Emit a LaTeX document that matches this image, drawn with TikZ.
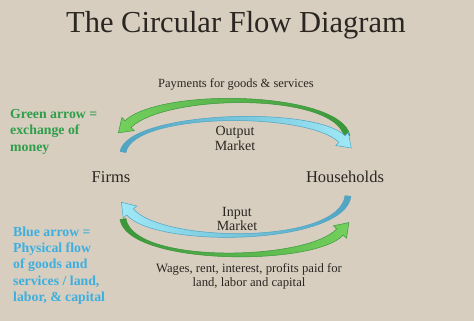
\documentclass[tikz,border=0pt]{standalone}
\usepackage{fontspec}
\setmainfont{Liberation Serif}
\usetikzlibrary{calc}

\begin{document}
\begin{tikzpicture}[x=1pt, y=-1pt,
    plain text/.style={anchor=base, inner sep=0pt, text=textColour},
    legend text/.style={anchor=base west, inner sep=0pt, align=left, font=\bfseries\fontsize{13.8}{16.4}\selectfont}]
    \definecolor{bgColour}{HTML}{D7CEC0}
    \definecolor{textColour}{HTML}{2B2621}
    \definecolor{moneyText}{HTML}{2F9E4A}
    \definecolor{goodsText}{HTML}{3DAFDF}
    \definecolor{greenDark}{HTML}{3A963A}
    \definecolor{greenLight}{HTML}{74D05C}
    \definecolor{blueDark}{HTML}{4FA4C2}
    \definecolor{blueLight}{HTML}{9FE8F6}

    \def\tailW{3pt}
    \def\headW{4.5pt}
    \def\barbW{9pt}
    \def\tipL{13pt}

    % curved band from P0 (tail) to P3 (head base), shaded
    \def\flowarrow#1#2#3#4#5{%
        \shade[#5, line width=0.5pt]
            ($(#1)!\tailW!90:(#2)$) .. controls ($(#2)!\tailW!-90:(#1)$) and ($(#3)!\headW!90:(#4)$) .. ($(#4)!\headW!-90:(#3)$)
            -- ($(#4)!\barbW!-90:(#3)$) -- ($(#4)!\tipL!180:(#3)$) -- ($(#4)!\barbW!90:(#3)$)
            -- ($(#4)!\headW!90:(#3)$) .. controls ($(#3)!\headW!-90:(#4)$) and ($(#2)!\tailW!90:(#1)$) .. ($(#1)!\tailW!-90:(#2)$) -- cycle;
    }

    % Background
    \fill[bgColour] (0,0) rectangle (474,321);

    % Title
    \node[plain text, font=\fontsize{30.5}{34}\selectfont] (title) at (236,33) {The Circular Flow Diagram};

    % Sectors
    \node[plain text, font=\fontsize{16.5}{18}\selectfont] (firms) at (111,182) {Firms};
    \node[plain text, font=\fontsize{16.5}{18}\selectfont] (households) at (345,182) {Households};

    % Markets
    \node[plain text, font=\fontsize{14}{16}\selectfont] (outputA) at (235,135) {Output};
    \node[plain text, font=\fontsize{14}{16}\selectfont] (outputB) at (235,150.7) {Market};
    \node[plain text, font=\fontsize{14}{16}\selectfont] (inputA) at (237,216) {Input};
    \node[plain text, font=\fontsize{14}{16}\selectfont] (inputB) at (237,230.5) {Market};

    % Flow labels
    \node[plain text, font=\fontsize{12.5}{14}\selectfont] (payments) at (236,87.5) {Payments for goods \& services};
    \node[plain text, font=\fontsize{12.7}{14}\selectfont] (wagesA) at (249,272.3) {Wages, rent, interest, profits paid for};
    \node[plain text, font=\fontsize{12.7}{14}\selectfont] (wagesB) at (249,286.7) {land, labor and capital};

    % Legend (base = last line)
    \node[legend text, text=moneyText] (moneyKey) at (10,151) {Green arrow =\\exchange of\\money};
    \node[legend text, text=goodsText] (goodsKey) at (13,301.7) {Blue arrow =\\Physical flow\\of goods and\\services / land,\\labor, \& capital};

    % Output market arrows
    \coordinate (gt0) at (347,136);
    \coordinate (gt1) at (338,92);
    \coordinate (gt2) at (165,90);
    \coordinate (gt3) at (128,124);
    \flowarrow{gt0}{gt1}{gt2}{gt3}{left color=greenLight, right color=greenDark, draw=greenDark}

    \coordinate (bt0) at (123,152);
    \coordinate (bt1) at (130,112);
    \coordinate (bt2) at (310,108);
    \coordinate (bt3) at (342,139);
    \flowarrow{bt0}{bt1}{bt2}{bt3}{left color=blueDark, right color=blueLight, draw=blueDark}

    % Input market arrows
    \coordinate (bb0) at (348,196);
    \coordinate (bb1) at (342,245);
    \coordinate (bb2) at (160,246);
    \coordinate (bb3) at (130,212);
    \flowarrow{bb0}{bb1}{bb2}{bb3}{left color=blueLight, right color=blueDark, draw=blueDark}

    \coordinate (gb0) at (123,219);
    \coordinate (gb1) at (130,265);
    \coordinate (gb2) at (310,264);
    \coordinate (gb3) at (340,232);
    \flowarrow{gb0}{gb1}{gb2}{gb3}{left color=greenDark, right color=greenLight, draw=greenDark}

\end{tikzpicture}
\end{document}
